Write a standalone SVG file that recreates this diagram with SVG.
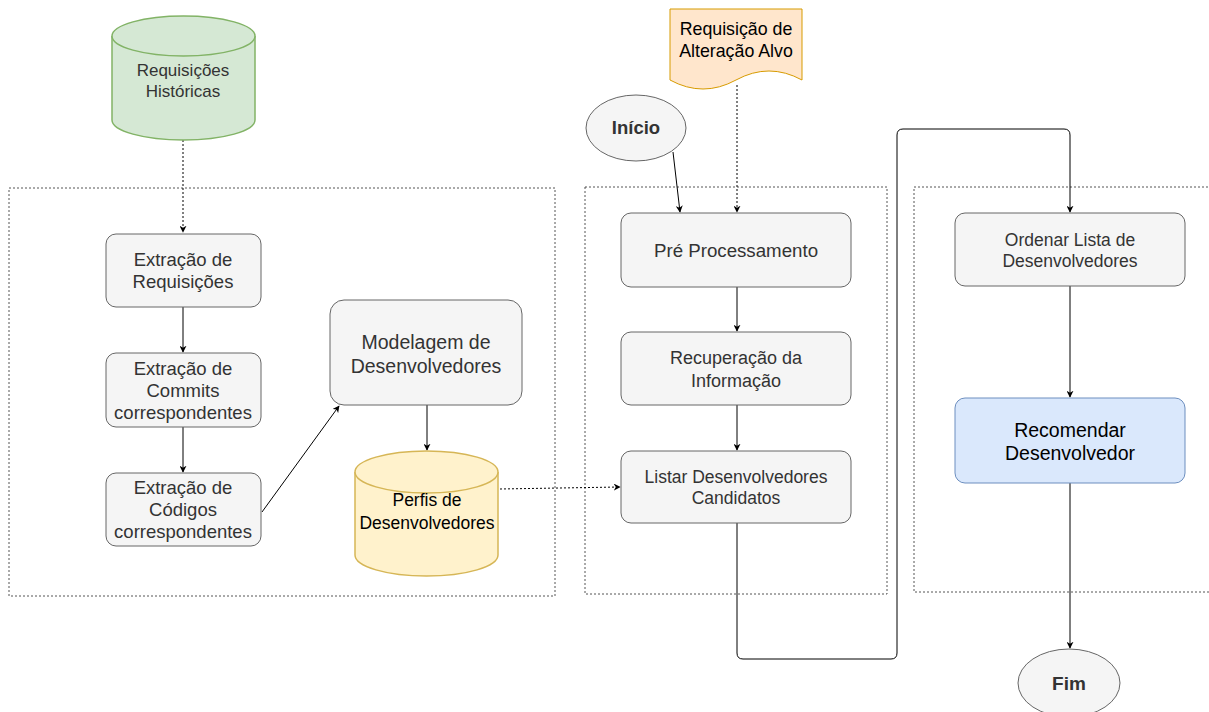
<svg xmlns="http://www.w3.org/2000/svg" width="1209" height="712" viewBox="0 0 1209 712">
<defs>
<style>
.grp{fill:none;stroke:#555;stroke-width:1;stroke-dasharray:2 2}
.box{fill:#f5f5f5;stroke:#666;stroke-width:1}
.t{font-family:"Liberation Sans",Arial,sans-serif;text-anchor:middle;fill:#333}
.tb{font-family:"Liberation Sans",Arial,sans-serif;text-anchor:middle;fill:#000}
.c{fill:none;stroke:#000;stroke-width:1}
.d{fill:none;stroke:#000;stroke-width:1;stroke-dasharray:2 2}
</style>
<marker id="ah" viewBox="0 0 10 10" refX="9" refY="5" markerWidth="7" markerHeight="7" orient="auto" markerUnits="userSpaceOnUse">
<path d="M0,0 L10,5 L0,10 L3,5 Z" fill="#000"/>
</marker>
</defs>
<rect width="1209" height="712" fill="#fff"/>

<g id="groups">
<rect class="grp" x="9" y="188" width="546" height="408"/>
<rect class="grp" x="585" y="187" width="302" height="407"/>
<path class="grp" d="M1212,187 H914 V592 H1212"/>
</g>

<g id="connectors">
<path class="d" d="M183,140 V232" marker-end="url(#ah)"/>
<path class="c" d="M183,307 V352" marker-end="url(#ah)"/>
<path class="c" d="M183,427 V472" marker-end="url(#ah)"/>
<path class="c" d="M262,512 L339,406" marker-end="url(#ah)"/>
<path class="c" d="M427,405 V450" marker-end="url(#ah)"/>
<path class="d" d="M500,489 L620,487" marker-end="url(#ah)"/>
<path class="d" d="M737,85 V212" marker-end="url(#ah)"/>
<path class="c" d="M673,152 L680,212" marker-end="url(#ah)"/>
<path class="c" d="M737,287 V331" marker-end="url(#ah)"/>
<path class="c" d="M737,405 V450" marker-end="url(#ah)"/>
<path class="c" d="M737,523 V653 Q737,659 743,659 H891 Q897,659 897,653 V135 Q897,129 903,129 H1064 Q1070,129 1070,135 V212" marker-end="url(#ah)"/>
<path class="c" d="M1070,286 V397" marker-end="url(#ah)"/>
<path class="c" d="M1070,483 V648" marker-end="url(#ah)"/>
</g>

<g id="req-historicas">
<path d="M112,36 V120 A71.5,20 0 0 0 255,120 V36" fill="#d5e8d4" stroke="#82b366" stroke-width="1.5"/>
<ellipse cx="183.5" cy="36" rx="71.5" ry="20" fill="#d5e8d4" stroke="#82b366" stroke-width="1.5"/>
<text class="t" x="183" y="76" font-size="17">Requisições</text>
<text class="t" x="183" y="97" font-size="17">Históricas</text>
</g>

<g id="extr-req">
<rect class="box" x="106" y="234" width="155" height="73" rx="10"/>
<text class="t" x="183" y="266" font-size="18.5">Extração de</text>
<text class="t" x="183" y="288" font-size="18.5">Requisições</text>
</g>

<g id="extr-commits">
<rect class="box" x="106" y="353" width="155" height="74" rx="10"/>
<text class="t" x="183" y="375" font-size="18.5">Extração de</text>
<text class="t" x="183" y="397" font-size="18.5">Commits</text>
<text class="t" x="183" y="419" font-size="18.5">correspondentes</text>
</g>

<g id="extr-codigos">
<rect class="box" x="106" y="473" width="155" height="73" rx="10"/>
<text class="t" x="183" y="494" font-size="18.5">Extração de</text>
<text class="t" x="183" y="516" font-size="18.5">Códigos</text>
<text class="t" x="183" y="538" font-size="18.5">correspondentes</text>
</g>

<g id="modelagem">
<rect class="box" x="330" y="300" width="192" height="105" rx="14"/>
<text class="t" x="426" y="349" font-size="19.5">Modelagem de</text>
<text class="t" x="426" y="373" font-size="19.5">Desenvolvedores</text>
</g>

<g id="perfis">
<path d="M355,472 V555 A71.5,21 0 0 0 498,555 V472" fill="#fff2cc" stroke="#d6b656" stroke-width="1.5"/>
<ellipse cx="426.5" cy="472" rx="71.5" ry="21" fill="#fff2cc" stroke="#d6b656" stroke-width="1.5"/>
<text class="tb" x="427" y="506" font-size="17.5">Perfis de</text>
<text class="tb" x="427" y="529" font-size="17.5">Desenvolvedores</text>
</g>

<g id="req-alvo">
<path d="M670,9 H802 V80 Q769,62 736,80 T670,80 Z" fill="#ffe6cc" stroke="#d79b00" stroke-width="1"/>
<text class="tb" x="736" y="35" font-size="17.8">Requisição de</text>
<text class="tb" x="736" y="57" font-size="17.8">Alteração Alvo</text>
</g>

<g id="inicio">
<ellipse cx="636" cy="128" rx="50" ry="33" fill="#f5f5f5" stroke="#666"/>
<text class="t" x="636" y="134" font-size="18.5" font-weight="bold">Início</text>
</g>

<g id="pre-proc">
<rect class="box" x="621" y="213" width="230" height="74" rx="10"/>
<text class="t" x="736" y="257" font-size="18.7">Pré Processamento</text>
</g>

<g id="recuperacao">
<rect class="box" x="621" y="332" width="230" height="73" rx="10"/>
<text class="t" x="736" y="364" font-size="18">Recuperação da</text>
<text class="t" x="736" y="387" font-size="18">Informação</text>
</g>

<g id="listar">
<rect class="box" x="621" y="451" width="230" height="72" rx="10"/>
<text class="t" x="736" y="483" font-size="17.5">Listar Desenvolvedores</text>
<text class="t" x="736" y="504" font-size="17.5">Candidatos</text>
</g>

<g id="ordenar">
<rect class="box" x="955" y="213" width="230" height="73" rx="10"/>
<text class="t" x="1070" y="246" font-size="17.5">Ordenar Lista de</text>
<text class="t" x="1070" y="267" font-size="17.5">Desenvolvedores</text>
</g>

<g id="recomendar">
<rect x="955" y="398" width="230" height="85" rx="10" fill="#dae8fc" stroke="#6c8ebf"/>
<text class="tb" x="1070" y="437" font-size="19.5">Recomendar</text>
<text class="tb" x="1070" y="460" font-size="19.5">Desenvolvedor</text>
</g>

<g id="fim">
<ellipse cx="1069" cy="683" rx="51" ry="34" fill="#f5f5f5" stroke="#666"/>
<text class="t" x="1069" y="690" font-size="19" font-weight="bold">Fim</text>
</g>
</svg>
